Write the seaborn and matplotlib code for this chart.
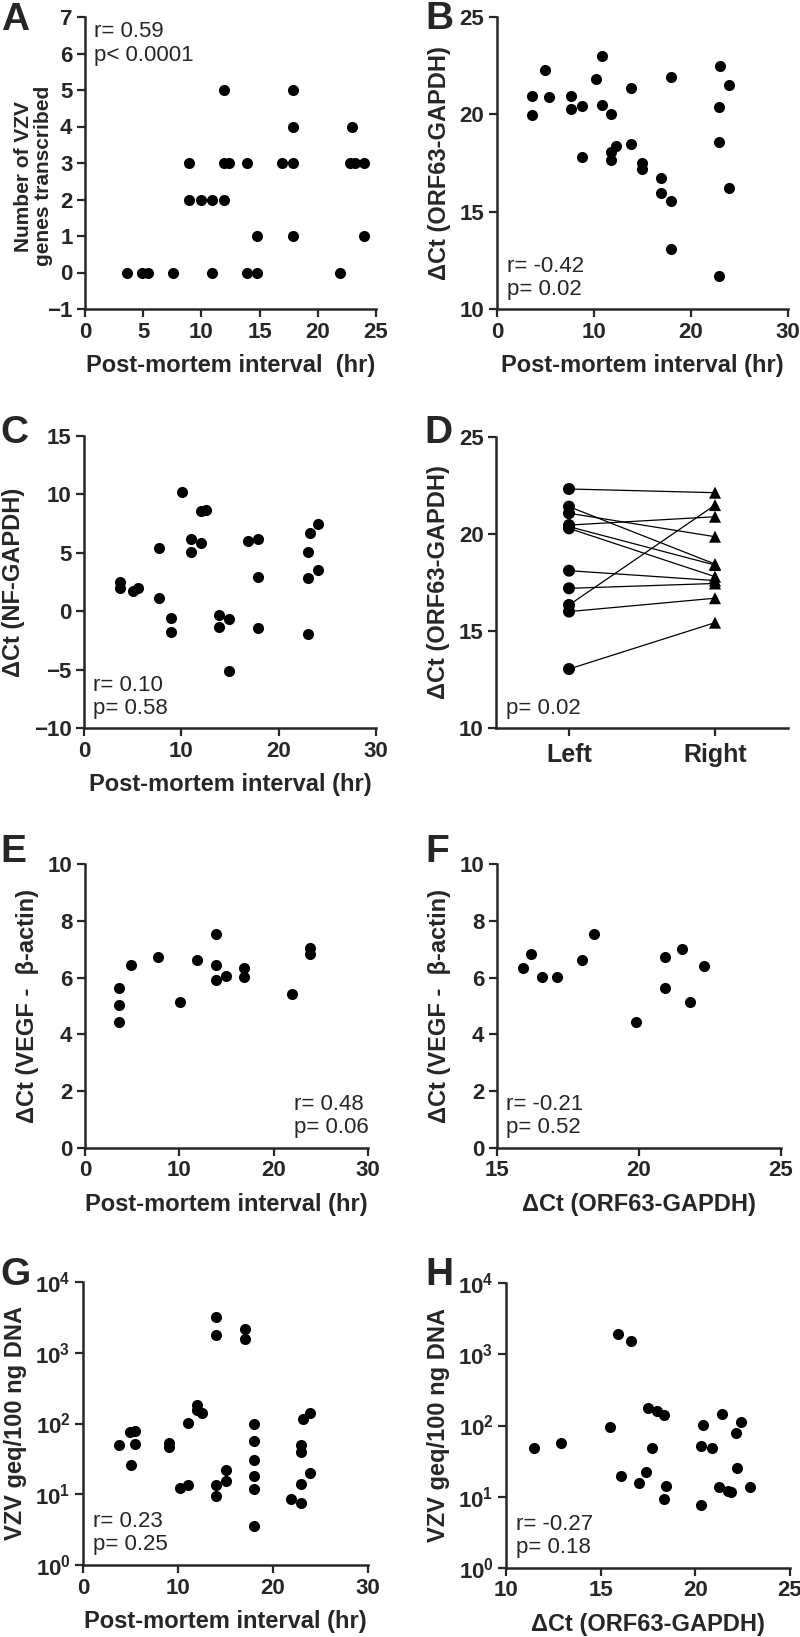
import matplotlib
matplotlib.use('Agg')
import numpy as np
import pandas as pd
import matplotlib.pyplot as plt
import seaborn as sns

# ---- data ----
# A: post-mortem interval vs number of VZV genes transcribed
a_pmi = [3.6, 4.9, 5.4, 7.6, 10.9, 13.9, 14.8, 21.9,
         14.8, 17.9, 24.0,
         8.9, 10.0, 10.9, 11.9,
         8.9, 11.9, 12.4, 13.9, 16.9, 17.9, 22.8, 23.2, 24.0,
         17.9, 22.9,
         11.9, 17.9]
a_genes = [0, 0, 0, 0, 0, 0, 0, 0,
           1, 1, 1,
           2, 2, 2, 2,
           3, 3, 3, 3, 3, 3, 3, 3, 3,
           4, 4,
           5, 5]

# B: post-mortem interval vs dCt (ORF63-GAPDH)
b_pmi = [3.6, 3.6, 4.9, 5.4, 7.6, 7.6, 8.8, 8.8, 10.2, 10.8, 10.8, 11.8, 11.8, 11.8, 12.3,
         13.8, 13.8, 14.9, 14.9, 16.9, 16.9, 17.9, 17.9, 17.9, 23.0, 22.9, 22.9, 22.9, 23.9, 23.9]
b_dct = [20.95, 19.98, 22.27, 20.87, 20.95, 20.25, 20.42, 17.82, 21.79, 23.02, 20.47, 20.03, 18.08, 17.65, 18.39,
         21.36, 18.47, 17.48, 17.19, 16.75, 15.98, 21.94, 15.57, 13.07, 22.5, 20.39, 18.56, 11.67, 21.5, 16.23]

# C: post-mortem interval vs dCt (NF-GAPDH)
c_pmi = [3.7, 3.7, 5.0, 5.5, 7.7, 7.7, 8.9, 8.9, 10.1, 11.0, 11.0, 12.0, 12.0, 12.5,
         13.9, 13.9, 14.9, 14.9, 16.9, 17.9, 17.9, 17.9, 23.0, 23.0, 23.0, 23.2, 24.0, 24.0]
c_dct = [2.49, 1.97, 1.77, 1.97, 5.45, 1.12, -0.59, -1.76, 10.18, 6.16, 5.11, 5.88, 8.59, 8.67,
         -0.34, -1.36, -0.68, -5.15, 6.05, 6.22, 2.91, -1.45, 5.08, 2.8, -1.93, 6.68, 7.5, 3.51]

# D: paired left / right ganglia, dCt (ORF63-GAPDH)
d_left = [22.32, 21.41, 21.07, 20.46, 20.38, 20.29, 18.11, 17.20, 16.34, 16.00, 13.04]
d_right = [22.13, 18.45, 19.86, 20.89, 18.40, 17.80, 17.60, 17.45, 21.49, 16.69, 15.43]
d_sides = ['Left', 'Right']

# E: post-mortem interval vs dCt (VEGF - beta-actin)
e_pmi = [3.6, 3.6, 3.6, 4.9, 7.7, 10.1, 11.9, 13.9, 13.9, 13.9, 14.9, 16.9, 16.9, 21.9, 23.9, 23.9]
e_dct = [5.63, 5.05, 4.44, 6.43, 6.73, 5.14, 6.63, 7.55, 6.43, 5.93, 6.04, 6.34, 6.02, 5.43, 7.04, 6.84]

# F: dCt (ORF63-GAPDH) vs dCt (VEGF - beta-actin)
f_orf = [15.9, 16.2, 16.6, 17.1, 18.0, 18.4, 19.9, 20.9, 20.9, 21.5, 21.8, 22.3]
f_vegf = [6.34, 6.84, 6.02, 6.02, 6.63, 7.54, 4.42, 6.71, 5.62, 7.02, 5.13, 6.42]

# G: post-mortem interval vs VZV geq/100 ng DNA
g_pmi = [3.75, 4.9, 5.0, 5.5, 5.5, 9.0, 9.0, 10.25, 11.0, 11.0, 12.0, 12.0, 12.5,
         14.0, 14.0, 14.0, 14.0, 15.0, 15.0, 17.0, 17.0,
         18.0, 18.0, 18.0, 18.0, 18.0, 18.0, 21.9, 22.9, 22.9, 22.9, 22.9, 23.2, 23.9, 23.9]
g_geq = [49, 75, 25.5, 79, 52, 53, 47, 12.2, 13.6, 101, 180, 156, 143,
         3200, 1760, 13.6, 9.3, 22, 15.6, 2160, 1560,
         98, 56, 30, 18.2, 11.8, 3.6, 8.6, 50, 39, 14, 7.5, 115, 143, 19.8]

# H: dCt (ORF63-GAPDH) vs VZV geq/100 ng DNA
h_orf = [11.5, 12.9, 15.5, 15.9, 16.6, 16.1, 17.0, 17.4, 17.5, 17.7, 18.0, 18.35, 18.45, 18.35,
         20.3, 20.4, 20.3, 20.9, 21.4, 21.25, 21.75, 21.9, 22.15, 22.2, 22.4, 22.9]
h_geq = [49, 56, 96, 1920, 1550, 19.7, 15.7, 22, 174, 48, 160, 140, 14.1, 9.3,
         7.6, 102, 52, 49, 143, 13.5, 12.1, 11.7, 78, 25.5, 113, 13.5]

# ---- style ----
sns.set_style('ticks')
plt.rcParams['font.family'] = ['Liberation Sans', 'DejaVu Sans']
plt.rcParams['font.weight'] = 'bold'
plt.rcParams['axes.labelweight'] = 'bold'
plt.rcParams['mathtext.fontset'] = 'custom'
plt.rcParams['mathtext.rm'] = 'Liberation Sans'
plt.rcParams['mathtext.it'] = 'Liberation Sans'
plt.rcParams['mathtext.bf'] = 'Liberation Sans:bold'

W, H = 800, 1637
fig = plt.figure(figsize=(W / 100, H / 100), dpi=100)


def add_ax(x0, y0, x1, y1):
    return fig.add_axes([x0 / W, 1 - y1 / H, (x1 - x0) / W, (y1 - y0) / H])


def style(ax, xlabel, ylabel, ylabel_size=17):
    sns.despine(ax=ax)
    for s in ['left', 'bottom']:
        ax.spines[s].set_linewidth(1.8)
    ax.tick_params(direction='out', length=6, width=1.6, labelsize=16, pad=3)
    ax.set_xlabel(xlabel, fontsize=17, labelpad=8)
    ax.set_ylabel(ylabel, fontsize=ylabel_size, labelpad=6)


def dots(ax, x, y):
    sns.scatterplot(x=x, y=y, ax=ax, color='black', s=64, linewidth=0, clip_on=False, legend=False)


def note(ax, txt, x, y, va):
    ax.text(x, y, txt, transform=ax.transAxes, fontsize=16, fontweight='normal',
            ha='left', va=va, linespacing=1.15)


pmi_label = 'Post-mortem interval (hr)'
orf_label = 'ΔCt (ORF63-GAPDH)'
vegf_label = 'ΔCt (VEGF -  β-actin)'
geq_label = 'VZV geq/100 ng DNA'

# A
ax = add_ax(85, 17, 376, 309)
dots(ax, a_pmi, a_genes)
ax.set_xlim(0, 25)
ax.set_ylim(-1, 7)
ax.set_xticks(range(0, 26, 5))
ax.set_yticks(range(-1, 8))
style(ax, 'Post-mortem interval  (hr)', 'Number of VZV\ngenes transcribed', ylabel_size=15)
ax.yaxis.label.set_linespacing(1.05)
ax.yaxis.set_label_coords(-0.11, 0.455)
note(ax, 'r= 0.59\np< 0.0001', 0.03, 0.985, 'top')

# B
ax = add_ax(497, 17, 788, 309)
dots(ax, b_pmi, b_dct)
ax.set_xlim(0, 30)
ax.set_ylim(10, 25)
ax.set_xticks([0, 10, 20, 30])
ax.set_yticks([10, 15, 20, 25])
style(ax, pmi_label, orf_label)
note(ax, 'r= -0.42\np= 0.02', 0.035, 0.03, 'bottom')

# C
ax = add_ax(84, 436, 376, 728)
dots(ax, c_pmi, c_dct)
ax.set_xlim(0, 30)
ax.set_ylim(-10, 15)
ax.set_xticks([0, 10, 20, 30])
ax.set_yticks(range(-10, 16, 5))
style(ax, pmi_label, 'ΔCt (NF-GAPDH)')
note(ax, 'r= 0.10\np= 0.58', 0.03, 0.03, 'bottom')

# D
ax = add_ax(496, 437, 788, 728)
n = len(d_left)
d_df = pd.DataFrame({
    'pair': list(range(n)) * 2,
    'side': ['Left'] * n + ['Right'] * n,
    'value': d_left + d_right,
})
d_df['pos'] = d_df['side'].map({s: i for i, s in enumerate(d_sides)})
sns.lineplot(data=d_df, x='pos', y='value', units='pair', estimator=None,
             color='black', lw=0.9, ax=ax, legend=False)
sns.scatterplot(data=d_df, x='pos', y='value', style='side', markers={'Left': 'o', 'Right': '^'},
                color='black', s=75, linewidth=0, ax=ax, legend=False, zorder=3)
ax.set_xlim(-0.5, 1.5)
ax.set_ylim(10, 25)
ax.set_xticks([0, 1], d_sides)
ax.set_yticks([10, 15, 20, 25])
style(ax, '', orf_label)
ax.tick_params(axis='x', labelsize=18, pad=5)
note(ax, 'p= 0.02', 0.035, 0.03, 'bottom')

# E
ax = add_ax(85, 864, 368, 1148)
dots(ax, e_pmi, e_dct)
ax.set_xlim(0, 30)
ax.set_ylim(0, 10)
ax.set_xticks([0, 10, 20, 30])
ax.set_yticks(range(0, 11, 2))
style(ax, pmi_label, vegf_label)
note(ax, 'r= 0.48\np= 0.06', 0.74, 0.035, 'bottom')

# F
ax = add_ax(497, 864, 781, 1148)
dots(ax, f_orf, f_vegf)
ax.set_xlim(15, 25)
ax.set_ylim(0, 10)
ax.set_xticks([15, 20, 25])
ax.set_yticks(range(0, 11, 2))
style(ax, orf_label, vegf_label)
note(ax, 'r= -0.21\np= 0.52', 0.03, 0.035, 'bottom')

# G, H (log scale)
log_ticks = [1, 10, 100, 1000, 10000]
log_labels = ['10$^{%d}$' % i for i in range(5)]

ax = add_ax(83, 1282, 368, 1565)
dots(ax, g_pmi, g_geq)
ax.set_yscale('log')
ax.set_xlim(0, 30)
ax.set_ylim(1, 10000)
ax.set_xticks([0, 10, 20, 30])
ax.set_yticks(log_ticks, log_labels)
ax.yaxis.set_minor_locator(matplotlib.ticker.NullLocator())
style(ax, pmi_label, geq_label)
note(ax, 'r= 0.23\np= 0.25', 0.035, 0.035, 'bottom')

ax = add_ax(506, 1283, 790, 1568)
dots(ax, h_orf, h_geq)
ax.set_yscale('log')
ax.set_xlim(10, 25)
ax.set_ylim(1, 10000)
ax.set_xticks([10, 15, 20, 25])
ax.set_yticks(log_ticks, log_labels)
ax.yaxis.set_minor_locator(matplotlib.ticker.NullLocator())
style(ax, orf_label, geq_label)
note(ax, 'r= -0.27\np= 0.18', 0.035, 0.035, 'bottom')

# panel letters
letters = [('A', 1, 30), ('B', 425, 29), ('C', 0, 443), ('D', 424, 443),
           ('E', 0, 862), ('F', 425, 862), ('G', 0, 1285), ('H', 425, 1285)]
for lab, lx, ly in letters:
    fig.text(lx / W, 1 - ly / H, lab, fontsize=28, fontweight='bold', ha='left', va='baseline')

fig.savefig('out.png', dpi=100)
